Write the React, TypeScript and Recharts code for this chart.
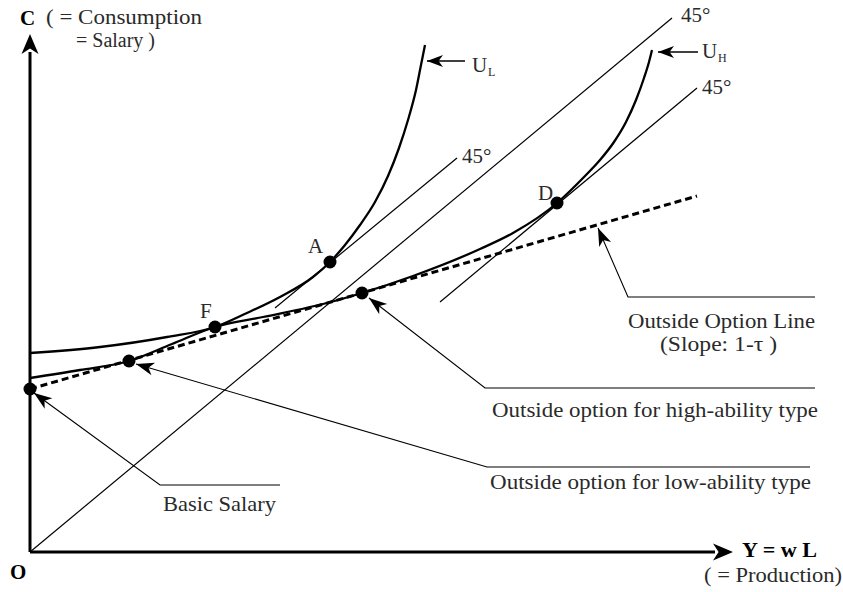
import React from 'react';
import { ComposedChart, Line, XAxis, YAxis, ReferenceDot } from 'recharts';

// Diagram units: origin O at (0,0); both axes use the same unit length.
const X_MIN = -6;
const X_MAX = 162.6;
const Y_MIN = -8;
const Y_MAX = 110.4;

// Axes
const yAxisLine = [{ x: 0, y: 0 }, { x: 0, y: 100 }];
const xAxisLine = [{ x: 0, y: 0 }, { x: 137, y: 0 }];

// Outside option line (slope 1 - tau)
const outsideOption = [{ x: 0, y: 32.6 }, { x: 133.4, y: 71.2 }];

// Indifference curves
const uLowCurve = [
  { x: 0, y: 39.8 }, { x: 14, y: 41 }, { x: 27.4, y: 43 }, { x: 37, y: 45 },
  { x: 43.4, y: 47.8 }, { x: 50, y: 51 }, { x: 56.6, y: 55 }, { x: 60, y: 58 },
  { x: 63, y: 61.4 }, { x: 66, y: 65.4 }, { x: 69, y: 70 }, { x: 71.6, y: 75.2 },
  { x: 73.8, y: 80.8 }, { x: 75.6, y: 86.4 }, { x: 77.2, y: 92.4 }, { x: 78.2, y: 97.4 },
  { x: 79, y: 101.4 },
];
const uHighCurve = [
  { x: 0, y: 34.8 }, { x: 10, y: 36.4 }, { x: 19.8, y: 38.2 }, { x: 28.4, y: 41.6 },
  { x: 37, y: 45 }, { x: 46.6, y: 47 }, { x: 59.4, y: 49.8 }, { x: 66.4, y: 51.8 },
  { x: 76.6, y: 55.2 }, { x: 90, y: 60.6 }, { x: 96.6, y: 63.8 }, { x: 105.4, y: 69.8 },
  { x: 108, y: 72.2 }, { x: 111, y: 75.2 }, { x: 114, y: 78.4 }, { x: 116.8, y: 82 },
  { x: 119.2, y: 86 }, { x: 121.2, y: 90.4 }, { x: 122.8, y: 94.8 }, { x: 123.8, y: 98 },
  { x: 124.4, y: 100.4 },
];

// 45 degree lines
const line45Main = [{ x: 0, y: 0 }, { x: 128.4, y: 106.8 }];
const line45A = [{ x: 49, y: 48.8 }, { x: 85.4, y: 78.8 }];
const line45D = [{ x: 82, y: 50 }, { x: 133.4, y: 92.8 }];

// Marked points
const points = [
  { name: 'Basic', x: 0, y: 32.6 },
  { name: 'Low', x: 19.8, y: 38.2 },
  { name: 'F', x: 37, y: 45 },
  { name: 'High', x: 66.4, y: 51.8 },
  { name: 'A', x: 60, y: 58 },
  { name: 'D', x: 105.4, y: 69.8 },
];

// Leader lines (tip -> knee -> end)
const leaderOutside = [{ x: 113.6, y: 64.8 }, { x: 119.6, y: 51 }, { x: 157, y: 51 }];
const leaderHigh = [{ x: 67.8, y: 50.8 }, { x: 91, y: 32.8 }, { x: 157, y: 32.8 }];
const leaderLow = [{ x: 21.2, y: 37.6 }, { x: 91.4, y: 17 }, { x: 156, y: 17 }];
const leaderBasic = [{ x: 0.8, y: 31.8 }, { x: 26, y: 13.4 }, { x: 50, y: 13.4 }];
const leaderUL = [{ x: 87, y: 98.2 }, { x: 79.4, y: 98.2 }];
const leaderUH = [{ x: 133.6, y: 100 }, { x: 125.6, y: 100 }];

// Arrowheads: tip, previous point, size
const arrows = [
  { tip: { x: 0, y: 103.6 }, from: { x: 0, y: 0 }, len: 20, wid: 17 },
  { tip: { x: 140.6, y: 0 }, from: { x: 0, y: 0 }, len: 20, wid: 17 },
  { tip: leaderOutside[0], from: leaderOutside[1], len: 18, wid: 13 },
  { tip: leaderHigh[0], from: leaderHigh[1], len: 18, wid: 13 },
  { tip: leaderLow[0], from: leaderLow[1], len: 18, wid: 13 },
  { tip: leaderBasic[0], from: leaderBasic[1], len: 18, wid: 13 },
  { tip: leaderUL[1], from: leaderUL[0], len: 16, wid: 12 },
  { tip: leaderUH[1], from: leaderUH[0], len: 16, wid: 12 },
];

// Text labels (x, y = baseline start in diagram units)
const labels = [
  { text: 'C', x: -2, y: 105.4, size: 21, bold: true },
  { text: '( = Consumption', x: 3.2, y: 105.6, size: 20, w: 156 },
  { text: '= Salary )', x: 9.2, y: 101.0, size: 20, w: 79 },
  { text: 'O', x: -4, y: -5.4, size: 21, bold: true },
  { text: 'Y = w L', x: 142.4, y: -1.0, size: 20, bold: true, w: 75 },
  { text: '( = Production)', x: 134.8, y: -6.0, size: 20, w: 138 },
  { text: '45°', x: 130.2, y: 106, size: 21 },
  { text: '45°', x: 86.4, y: 77.8, size: 21 },
  { text: '45°', x: 134.4, y: 91.6, size: 21 },
  { text: 'U', x: 88.4, y: 96, size: 21 },
  { text: 'L', x: 91.6, y: 95.2, size: 12 },
  { text: 'U', x: 134.4, y: 98.8, size: 21 },
  { text: 'H', x: 137.6, y: 98.0, size: 12 },
  { text: 'A', x: 55.6, y: 59.8, size: 21 },
  { text: 'F', x: 34, y: 46.8, size: 21 },
  { text: 'D', x: 101.6, y: 70.4, size: 21 },
  { text: 'Outside Option Line', x: 119.6, y: 44.8, size: 20, w: 187 },
  { text: '(Slope: 1-τ )', x: 126, y: 40.2, size: 20, w: 117 },
  { text: 'Outside option for high-ability type', x: 92.4, y: 27, size: 21, w: 326 },
  { text: 'Outside option for low-ability type', x: 92, y: 12.6, size: 21, w: 321 },
  { text: 'Basic Salary', x: 26.6, y: 8.2, size: 21, w: 113 },
];

const FONT = 'Liberation Serif, Times New Roman, serif';

const arrowShape = (a: any) => (props: any) => {
  const { cx, cy } = props;
  const angle = (Math.atan2(-(a.tip.y - a.from.y), a.tip.x - a.from.x) * 180) / Math.PI;
  const L = a.len;
  const W = a.wid;
  return (
    <path
      transform={`translate(${cx},${cy}) rotate(${angle})`}
      d={`M0,0 L${-L},${-W / 2} L${-L * 0.72},0 L${-L},${W / 2} Z`}
      fill="#000"
    />
  );
};

const textShape = (t: any) => (props: any) => {
  const { cx, cy } = props;
  return (
    <text
      x={cx}
      y={cy}
      fontFamily={FONT}
      fontSize={t.size}
      fontWeight={t.bold ? 700 : 400}
      fill={t.bold ? '#000' : '#2a2a2a'}
      textLength={t.w}
      lengthAdjust={t.w ? 'spacingAndGlyphs' : undefined}
    >
      {t.text}
    </text>
  );
};

const dotShape = (props: any) => <circle cx={props.cx} cy={props.cy} r={6.5} fill="#000" />;

const thin = {
  stroke: '#000',
  dot: false,
  activeDot: false,
  isAnimationActive: false,
  legendType: 'none' as const,
};

export default function App() {
  return (
    <div style={{ position: 'absolute', left: 0, top: 0, background: '#fff' }}>
      <ComposedChart width={843} height={592} margin={{ top: 0, right: 0, bottom: 0, left: 0 }}>
        <XAxis type="number" dataKey="x" domain={[X_MIN, X_MAX]} allowDataOverflow hide />
        <YAxis type="number" dataKey="y" domain={[Y_MIN, Y_MAX]} allowDataOverflow hide />

        <Line data={line45Main} dataKey="y" type="linear" strokeWidth={1.2} {...thin} />
        <Line data={line45A} dataKey="y" type="linear" strokeWidth={1.2} {...thin} />
        <Line data={line45D} dataKey="y" type="linear" strokeWidth={1.2} {...thin} />

        <Line data={leaderOutside} dataKey="y" type="linear" strokeWidth={1.1} {...thin} />
        <Line data={leaderHigh} dataKey="y" type="linear" strokeWidth={1.1} {...thin} />
        <Line data={leaderLow} dataKey="y" type="linear" strokeWidth={1.1} {...thin} />
        <Line data={leaderBasic} dataKey="y" type="linear" strokeWidth={1.1} {...thin} />
        <Line data={leaderUL} dataKey="y" type="linear" strokeWidth={1.3} {...thin} />
        <Line data={leaderUH} dataKey="y" type="linear" strokeWidth={1.3} {...thin} />

        <Line data={uLowCurve} dataKey="y" type="monotone" strokeWidth={2.3} {...thin} />
        <Line data={uHighCurve} dataKey="y" type="monotone" strokeWidth={2.3} {...thin} />
        <Line data={outsideOption} dataKey="y" type="linear" strokeWidth={3} strokeDasharray="7 4" {...thin} />

        <Line data={yAxisLine} dataKey="y" type="linear" strokeWidth={3} {...thin} />
        <Line data={xAxisLine} dataKey="y" type="linear" strokeWidth={3} {...thin} />

        {points.map((p) => (
          <ReferenceDot key={p.name} x={p.x} y={p.y} r={6.5} ifOverflow="visible" shape={dotShape} />
        ))}
        {arrows.map((a, i) => (
          <ReferenceDot key={`ar${i}`} x={a.tip.x} y={a.tip.y} r={0} ifOverflow="visible" shape={arrowShape(a)} />
        ))}
        {labels.map((t, i) => (
          <ReferenceDot key={`tx${i}`} x={t.x} y={t.y} r={0} ifOverflow="visible" shape={textShape(t)} />
        ))}
      </ComposedChart>
    </div>
  );
}
